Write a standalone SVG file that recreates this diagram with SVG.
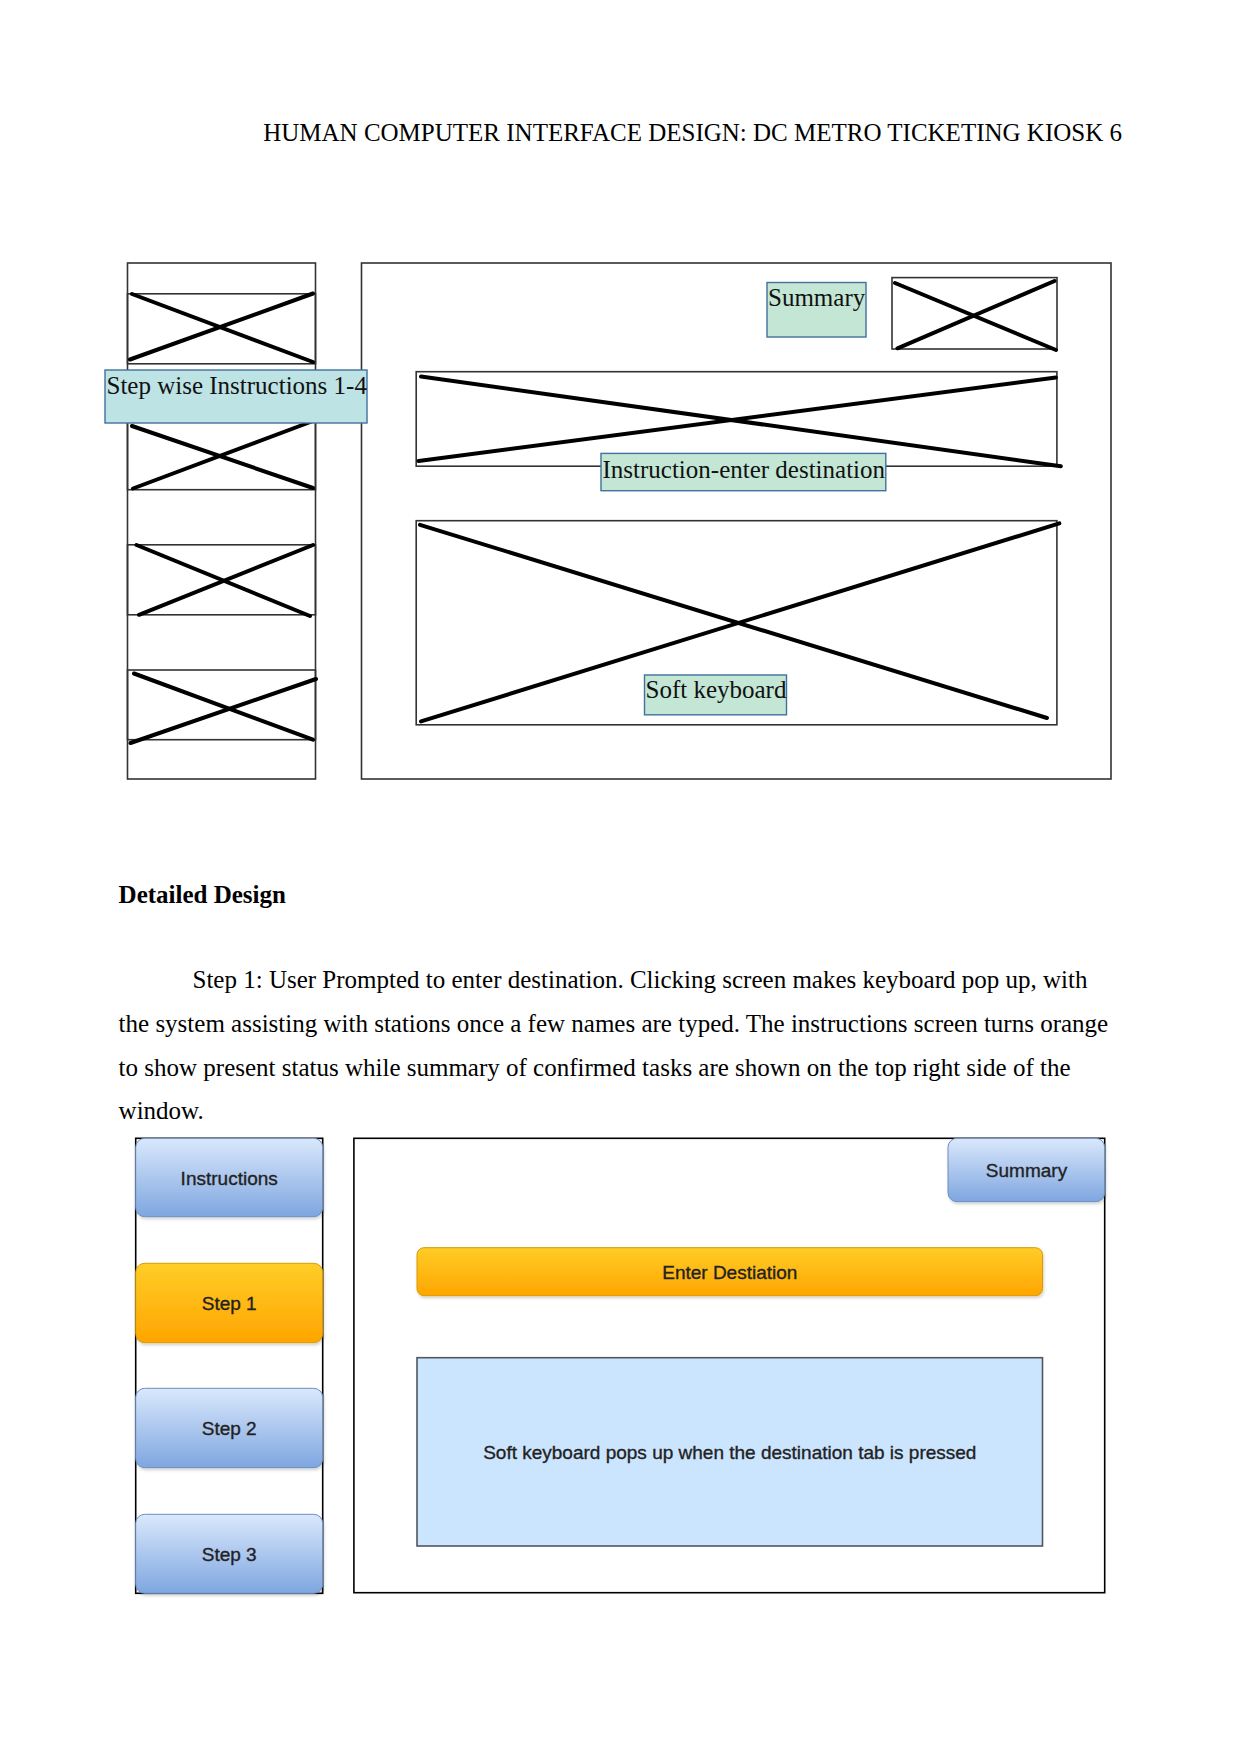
<svg xmlns="http://www.w3.org/2000/svg" width="1241" height="1754" viewBox="0 0 1241 1754">
<defs>
<linearGradient id="gBlue" x1="0" y1="0" x2="0" y2="1">
<stop offset="0" stop-color="#dae8fc"/>
<stop offset="1" stop-color="#7ea6e0"/>
</linearGradient>
<linearGradient id="gOrange" x1="0" y1="0" x2="0" y2="1">
<stop offset="0" stop-color="#ffcd28"/>
<stop offset="1" stop-color="#ffa500"/>
</linearGradient>
<filter id="sh" x="-5%" y="-10%" width="115%" height="130%">
<feDropShadow dx="1" dy="2" stdDeviation="1.5" flood-color="#000" flood-opacity="0.18"/>
</filter>
</defs>
<style>
.doc{font-family:"Liberation Serif","Times New Roman",serif;font-size:25px;fill:#000}
.bold{font-weight:bold}
.frame{fill:#fff;stroke:#333;stroke-width:1.6}
.cell{fill:none;stroke:#333;stroke-width:1.6}
.x{stroke:#000;stroke-width:4;stroke-linecap:round;fill:none}
.lblC{fill:#bde3e5;stroke:#41719c;stroke-width:1.4}
.lblG{fill:#c3e6d5;stroke:#41719c;stroke-width:1.4}
.lt{font-family:"Liberation Serif","Times New Roman",serif;font-size:25px;fill:#111}
.panel{fill:#fff;stroke:#000;stroke-width:1.6}
.bb{fill:url(#gBlue);stroke:#6c8ebf;stroke-width:1}
.bo{fill:url(#gOrange);stroke:#d79b00;stroke-width:1}
.bt{font-family:"Liberation Sans",Arial,sans-serif;font-size:19px;fill:#222;stroke:#222;stroke-width:0.35;text-anchor:middle}
.kb{fill:#cce5ff;stroke:#50565e;stroke-width:1.6}
</style>

<g id="header">
<text class="doc" x="1122" y="141" text-anchor="end">HUMAN COMPUTER INTERFACE DESIGN: DC METRO TICKETING KIOSK 6</text>
</g>

<!-- Wireframe (top) -->
<g id="wire-right">
<rect class="frame" x="361.5" y="263" width="749.5" height="516"/>
<g id="label-summary">
<rect class="lblG" x="767" y="282.5" width="99" height="54.5"/>
<text class="lt" x="768" y="306">Summary</text>
</g>
<g id="summary-placeholder">
<rect class="cell" x="892" y="277.6" width="165" height="71.4"/>
<line class="x" x1="895" y1="283" x2="1056" y2="350"/>
<line class="x" x1="897.5" y1="348.3" x2="1054.5" y2="281"/>
</g>
<g id="instruction-placeholder">
<rect class="cell" x="416.2" y="371.7" width="640.7" height="94.5"/>
<line class="x" x1="421" y1="376.6" x2="1060.8" y2="466.2"/>
<line class="x" x1="418.6" y1="461" x2="1055.9" y2="377.6"/>
</g>
<g id="label-instruction">
<rect class="lblG" x="601" y="453.4" width="284.8" height="37.3"/>
<text class="lt" x="602.5" y="477.5">Instruction-enter destination</text>
</g>
<g id="keyboard-placeholder">
<rect class="cell" x="416.2" y="520.7" width="640.7" height="204.1"/>
<line class="x" x1="420" y1="524.8" x2="1047" y2="718"/>
<line class="x" x1="421" y1="721.4" x2="1059.3" y2="523.4"/>
</g>
<g id="label-keyboard">
<rect class="lblG" x="644.5" y="675" width="142" height="39.8"/>
<text class="lt" x="645.5" y="698">Soft keyboard</text>
</g>
</g>

<g id="wire-left">
<rect class="frame" x="127.5" y="263" width="188" height="516"/>
<g id="cell1">
<rect class="cell" x="127.5" y="293.8" width="188" height="70"/>
<line class="x" x1="132" y1="294" x2="313" y2="362"/>
<line class="x" x1="130" y1="359.5" x2="313" y2="293.5"/>
</g>
<g id="cell2">
<rect class="cell" x="127.5" y="420" width="188" height="69.7"/>
<line class="x" x1="132" y1="426" x2="313" y2="488"/>
<line class="x" x1="133" y1="488.5" x2="313" y2="421"/>
</g>
<g id="cell3">
<rect class="cell" x="127.5" y="544.8" width="188" height="70"/>
<line class="x" x1="136.5" y1="545" x2="310" y2="616"/>
<line class="x" x1="139" y1="614.8" x2="313" y2="545"/>
</g>
<g id="cell4">
<rect class="cell" x="127.5" y="670" width="188" height="69.7"/>
<line class="x" x1="134" y1="673.5" x2="313" y2="739.7"/>
<line class="x" x1="130.5" y1="743" x2="316" y2="679"/>
</g>
<g id="label-stepwise">
<rect class="lblC" x="105" y="370" width="262" height="53"/>
<text class="lt" x="106.5" y="394">Step wise Instructions 1-4</text>
</g>
</g>

<g id="body-text">
<text class="doc bold" x="118.6" y="903">Detailed Design</text>
<text class="doc" x="192.5" y="988">Step 1: User Prompted to enter destination. Clicking screen makes keyboard pop up, with</text>
<text class="doc" x="118.6" y="1032">the system assisting with stations once a few names are typed. The instructions screen turns orange</text>
<text class="doc" x="118.6" y="1075.5">to show present status while summary of confirmed tasks are shown on the top right side of the</text>
<text class="doc" x="118.6" y="1118.5">window.</text>
</g>

<!-- Detailed design mockup (bottom) -->
<g id="detail-left">
<rect class="panel" x="135.7" y="1138.3" width="187" height="455"/>
<g id="btn-instructions">
<rect class="bb" filter="url(#sh)" x="135.7" y="1138.3" width="187" height="78.4" rx="9"/>
<text class="bt" x="229.2" y="1185">Instructions</text>
</g>
<g id="btn-step1">
<rect class="bo" filter="url(#sh)" x="135.7" y="1263.3" width="187" height="79.4" rx="9"/>
<text class="bt" x="229.2" y="1310">Step 1</text>
</g>
<g id="btn-step2">
<rect class="bb" filter="url(#sh)" x="135.7" y="1388.3" width="187" height="79.4" rx="9"/>
<text class="bt" x="229.2" y="1435">Step 2</text>
</g>
<g id="btn-step3">
<rect class="bb" filter="url(#sh)" x="135.7" y="1514.3" width="187" height="79" rx="9"/>
<text class="bt" x="229.2" y="1561">Step 3</text>
</g>
</g>

<g id="detail-right">
<rect class="panel" x="353.9" y="1138.3" width="750.8" height="454.4"/>
<g id="btn-summary">
<rect class="bb" filter="url(#sh)" x="948" y="1138.3" width="156.7" height="63.4" rx="9"/>
<text class="bt" x="1026.5" y="1177">Summary</text>
</g>
<g id="btn-enter-destination">
<rect class="bo" filter="url(#sh)" x="417" y="1247.7" width="625.5" height="48" rx="7"/>
<text class="bt" x="729.8" y="1279">Enter Destiation</text>
</g>
<g id="keyboard-area">
<rect class="kb" x="417" y="1357.7" width="625.5" height="188.3"/>
<text class="bt" x="729.8" y="1459">Soft keyboard pops up when the destination tab is pressed</text>
</g>
</g>

<g id="connectors"/>
</svg>
